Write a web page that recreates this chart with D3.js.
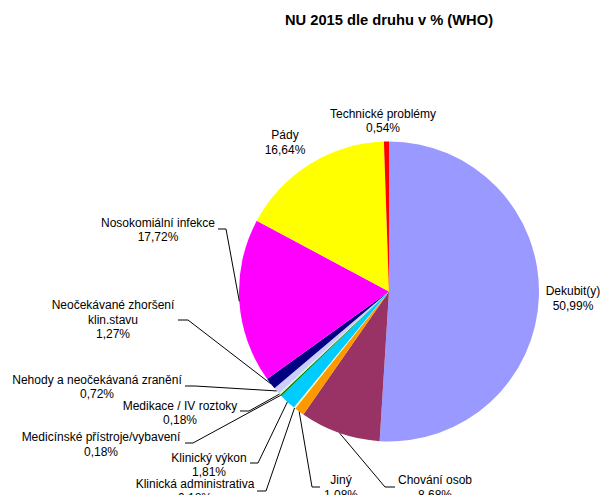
<!DOCTYPE html>
<html>
<head>
<meta charset="utf-8">
<script src="https://cdn.jsdelivr.net/npm/d3@7"></script>
<style>
	body { margin: 0; background: #fff; }
	svg { display: block; font-family: "Liberation Sans", Arial, sans-serif; }
</style>
</head>
<body>
<svg id="chart" width="603" height="495"></svg>
<script>

const title = 'NU 2015 dle druhu v % (WHO)';

const categories = [
	'Dekubit(y)',
	'Chování osob',
	'Jiný',
	'Klinická administrativa',
	'Klinický výkon',
	'Medicínské přístroje/vybavení',
	'Medikace / IV roztoky',
	'Nehody a neočekávaná zranění',
	'Neočekávané zhoršení\nklin.stavu',
	'Nosokomiální infekce',
	'Pády',
	'Technické problémy'
];

const values = [50.99, 8.68, 1.08, 0.18, 1.81, 0.18, 0.18, 0.72, 1.27, 17.72, 16.64, 0.54];

const colors = ['#9999ff', '#993366', '#ff9900', '#ffffcc', '#00ccff', '#008000',
	'#ccffcc', '#ccccff', '#000080', '#ff00ff', '#ffff00', '#ff0000'];

// label layout: text centre x, first baseline y, leader start + elbow (null = no leader)
const labelLayout = [
	{x: 573, y: 295,   leader: null},
	{x: 435, y: 484,   leader: [[395, 487], [385, 487]]},
	{x: 341, y: 484,   leader: [[320, 487], [312, 487]]},
	{x: 195, y: 487.5, leader: [[257, 491], [266, 491]]},
	{x: 209, y: 461.5, leader: [[250, 463], [258, 463]]},
	{x: 101, y: 441,   leader: [[185, 443], [193, 443]]},
	{x: 180, y: 409.5, leader: [[240, 411], [249, 411]]},
	{x: 97,  y: 383.5, leader: [[185, 386], [195, 386]]},
	{x: 113, y: 309,   leader: [[178, 320], [188, 320]]},
	{x: 158, y: 226.5, leader: [[218, 229], [226, 229]]},
	{x: 285, y: 139,   leader: null},
	{x: 383, y: 117.5, leader: null}
];

const cx = 389, cy = 291.5, radius = 150;
const lineHeight = 14.7;

const svg = d3.select('#chart');

svg.append('text')
	.attr('x', 389)
	.attr('y', 25)
	.attr('text-anchor', 'middle')
	.attr('font-size', 14.7)
	.attr('font-weight', 'bold')
	.text(title);

const pie = d3.pie().sort(null).value(d => d);
const arcs = pie(values);

const arc = d3.arc().innerRadius(0).outerRadius(radius);
const edgeArc = d3.arc().innerRadius(radius).outerRadius(radius);

const g = svg.append('g').attr('transform', 'translate(' + cx + ',' + cy + ')');

g.selectAll('path.slice')
	.data(arcs)
	.enter().append('path')
	.attr('class', 'slice')
	.attr('fill', (d, i) => colors[i])
	.attr('d', arc);

// leader lines
const line = d3.line();
svg.selectAll('path.leader')
	.data(arcs.filter((d, i) => labelLayout[i].leader))
	.enter().append('path')
	.attr('class', 'leader')
	.attr('fill', 'none')
	.attr('stroke', '#000')
	.attr('stroke-width', 1)
	.attr('d', d => {
		const lay = labelLayout[d.index];
		const c = edgeArc.centroid(d);
		return line([lay.leader[0], lay.leader[1], [cx + c[0], cy + c[1]]]);
	});

const fmt = v => v.toFixed(2).replace('.', ',') + '%';

const labels = svg.selectAll('text.label')
	.data(arcs)
	.enter().append('text')
	.attr('class', 'label')
	.attr('text-anchor', 'middle')
	.attr('font-size', 12)
	.attr('fill', '#000');

labels.each(function(d, i) {
	const lay = labelLayout[i];
	const lines = categories[i].split('\n').concat([fmt(values[i])]);
	d3.select(this).selectAll('tspan')
		.data(lines)
		.enter().append('tspan')
		.attr('x', lay.x)
		.attr('y', (t, j) => lay.y + j * lineHeight)
		.text(t => t);
});

</script>
</body>
</html>
